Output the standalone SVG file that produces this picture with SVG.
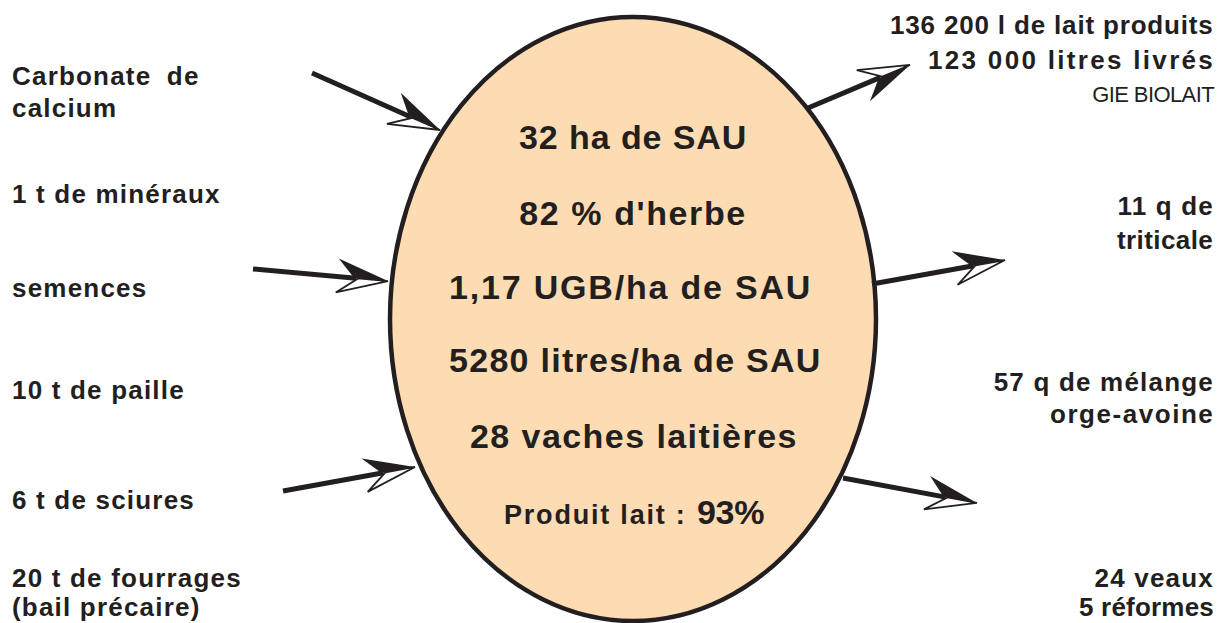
<svg xmlns="http://www.w3.org/2000/svg" width="1226" height="623" viewBox="0 0 1226 623">
<style>
.lbl{font-family:"Liberation Sans",Arial,sans-serif;font-weight:bold;font-size:26px;fill:#231f20;letter-spacing:1.2px}
.r{text-anchor:end}
.reg{font-family:"Liberation Sans",Arial,sans-serif;font-weight:normal;font-size:22px;fill:#231f20;text-anchor:end;letter-spacing:-0.6px}
.ctr{font-family:"Liberation Sans",Arial,sans-serif;font-weight:bold;font-size:34px;fill:#231f20;text-anchor:middle;letter-spacing:1.6px}
.shaft{stroke:#231f20;stroke-width:5;fill:none}
</style>
<defs>
<marker id="hd" markerUnits="userSpaceOnUse" markerWidth="80" markerHeight="60" refX="0" refY="0" viewBox="-30 -30 80 60" orient="auto" overflow="visible">
<path d="M32,0 L-19,-18 L-2,0 Z" fill="#231f20"/>
<path d="M32,0 L-19,16 L2,0 Z" fill="#fff" stroke="#231f20" stroke-width="1.8" stroke-linejoin="miter"/>
</marker>
<marker id="hdm" markerUnits="userSpaceOnUse" markerWidth="80" markerHeight="60" refX="0" refY="0" viewBox="-30 -30 80 60" orient="auto" overflow="visible">
<path d="M32,0 L-19,18 L-2,0 Z" fill="#231f20"/>
<path d="M32,0 L-19,-16 L2,0 Z" fill="#fff" stroke="#231f20" stroke-width="1.8" stroke-linejoin="miter"/>
</marker>
</defs>
<rect width="1226" height="623" fill="#fff"/>
<g id="farm">
<ellipse cx="633" cy="319" rx="243" ry="302" fill="#fddcb3" stroke="#231f20" stroke-width="4.5"/>
<text class="ctr" x="633.5" y="149" textLength="229" lengthAdjust="spacing">32 ha de SAU</text>
<text class="ctr" x="633" y="225">82 % d'herbe</text>
<text class="ctr" x="630.5" y="299" textLength="363" lengthAdjust="spacing">1,17 UGB/ha de SAU</text>
<text class="ctr" x="635.5" y="372" textLength="373" lengthAdjust="spacing">5280 litres/ha de SAU</text>
<text class="ctr" x="634" y="448" textLength="328" lengthAdjust="spacing">28 vaches laitières</text>
<text class="lbl" x="504" y="524" style="font-size:27px" textLength="182" lengthAdjust="spacing">Produit lait :</text>
<text class="lbl" x="697" y="524" style="font-size:34px;letter-spacing:1.6px" textLength="69" lengthAdjust="spacing">93%</text>
</g>
<g id="connectors">
<line class="shaft" x1="312" y1="73" x2="410.8" y2="117" marker-end="url(#hd)"/>
<line class="shaft" x1="808" y1="108" x2="880.5" y2="77.4" marker-end="url(#hdm)"/>
<line class="shaft" x1="253" y1="269" x2="356.1" y2="278.2" marker-end="url(#hd)"/>
<line class="shaft" x1="872" y1="284" x2="973.5" y2="265.7" marker-end="url(#hd)"/>
<line class="shaft" x1="283" y1="491" x2="383.5" y2="472.7" marker-end="url(#hd)"/>
<line class="shaft" x1="843" y1="478" x2="945.5" y2="497.1" marker-end="url(#hd)"/>
</g>
<g id="in-carbonate"><text class="lbl" x="12" y="85">Carbonate <tspan dx="7">de</tspan></text><text class="lbl" x="12" y="117">calcium</text></g>
<g id="in-mineraux"><text class="lbl" x="12" y="203">1 t de minéraux</text></g>
<g id="in-semences"><text class="lbl" x="12" y="297">semences</text></g>
<g id="in-paille"><text class="lbl" x="12" y="399">10 t de paille</text></g>
<g id="in-sciures"><text class="lbl" x="12" y="509">6 t de sciures</text></g>
<g id="in-fourrages"><text class="lbl" x="12" y="587">20 t de fourrages</text><text class="lbl" x="12" y="616">(bail précaire)</text></g>
<g id="out-lait"><text class="lbl r" x="1214" y="34" textLength="324" lengthAdjust="spacing">136 200 l de lait produits</text><text class="lbl r" x="1214" y="69" textLength="286" lengthAdjust="spacing">123 000 litres livrés</text><text class="reg" x="1214" y="102">GIE BIOLAIT</text></g>
<g id="out-triticale"><text class="lbl r" x="1214" y="215">11 q de</text><text class="lbl r" x="1214" y="249" textLength="97" lengthAdjust="spacing">triticale</text></g>
<g id="out-melange"><text class="lbl r" x="1214" y="391">57 q de mélange</text><text class="lbl r" x="1214" y="423" textLength="164" lengthAdjust="spacing">orge-avoine</text></g>
<g id="out-veaux"><text class="lbl r" x="1214" y="587">24 veaux</text><text class="lbl r" x="1214" y="616" style="letter-spacing:0.2px">5 réformes</text></g>
</svg>
